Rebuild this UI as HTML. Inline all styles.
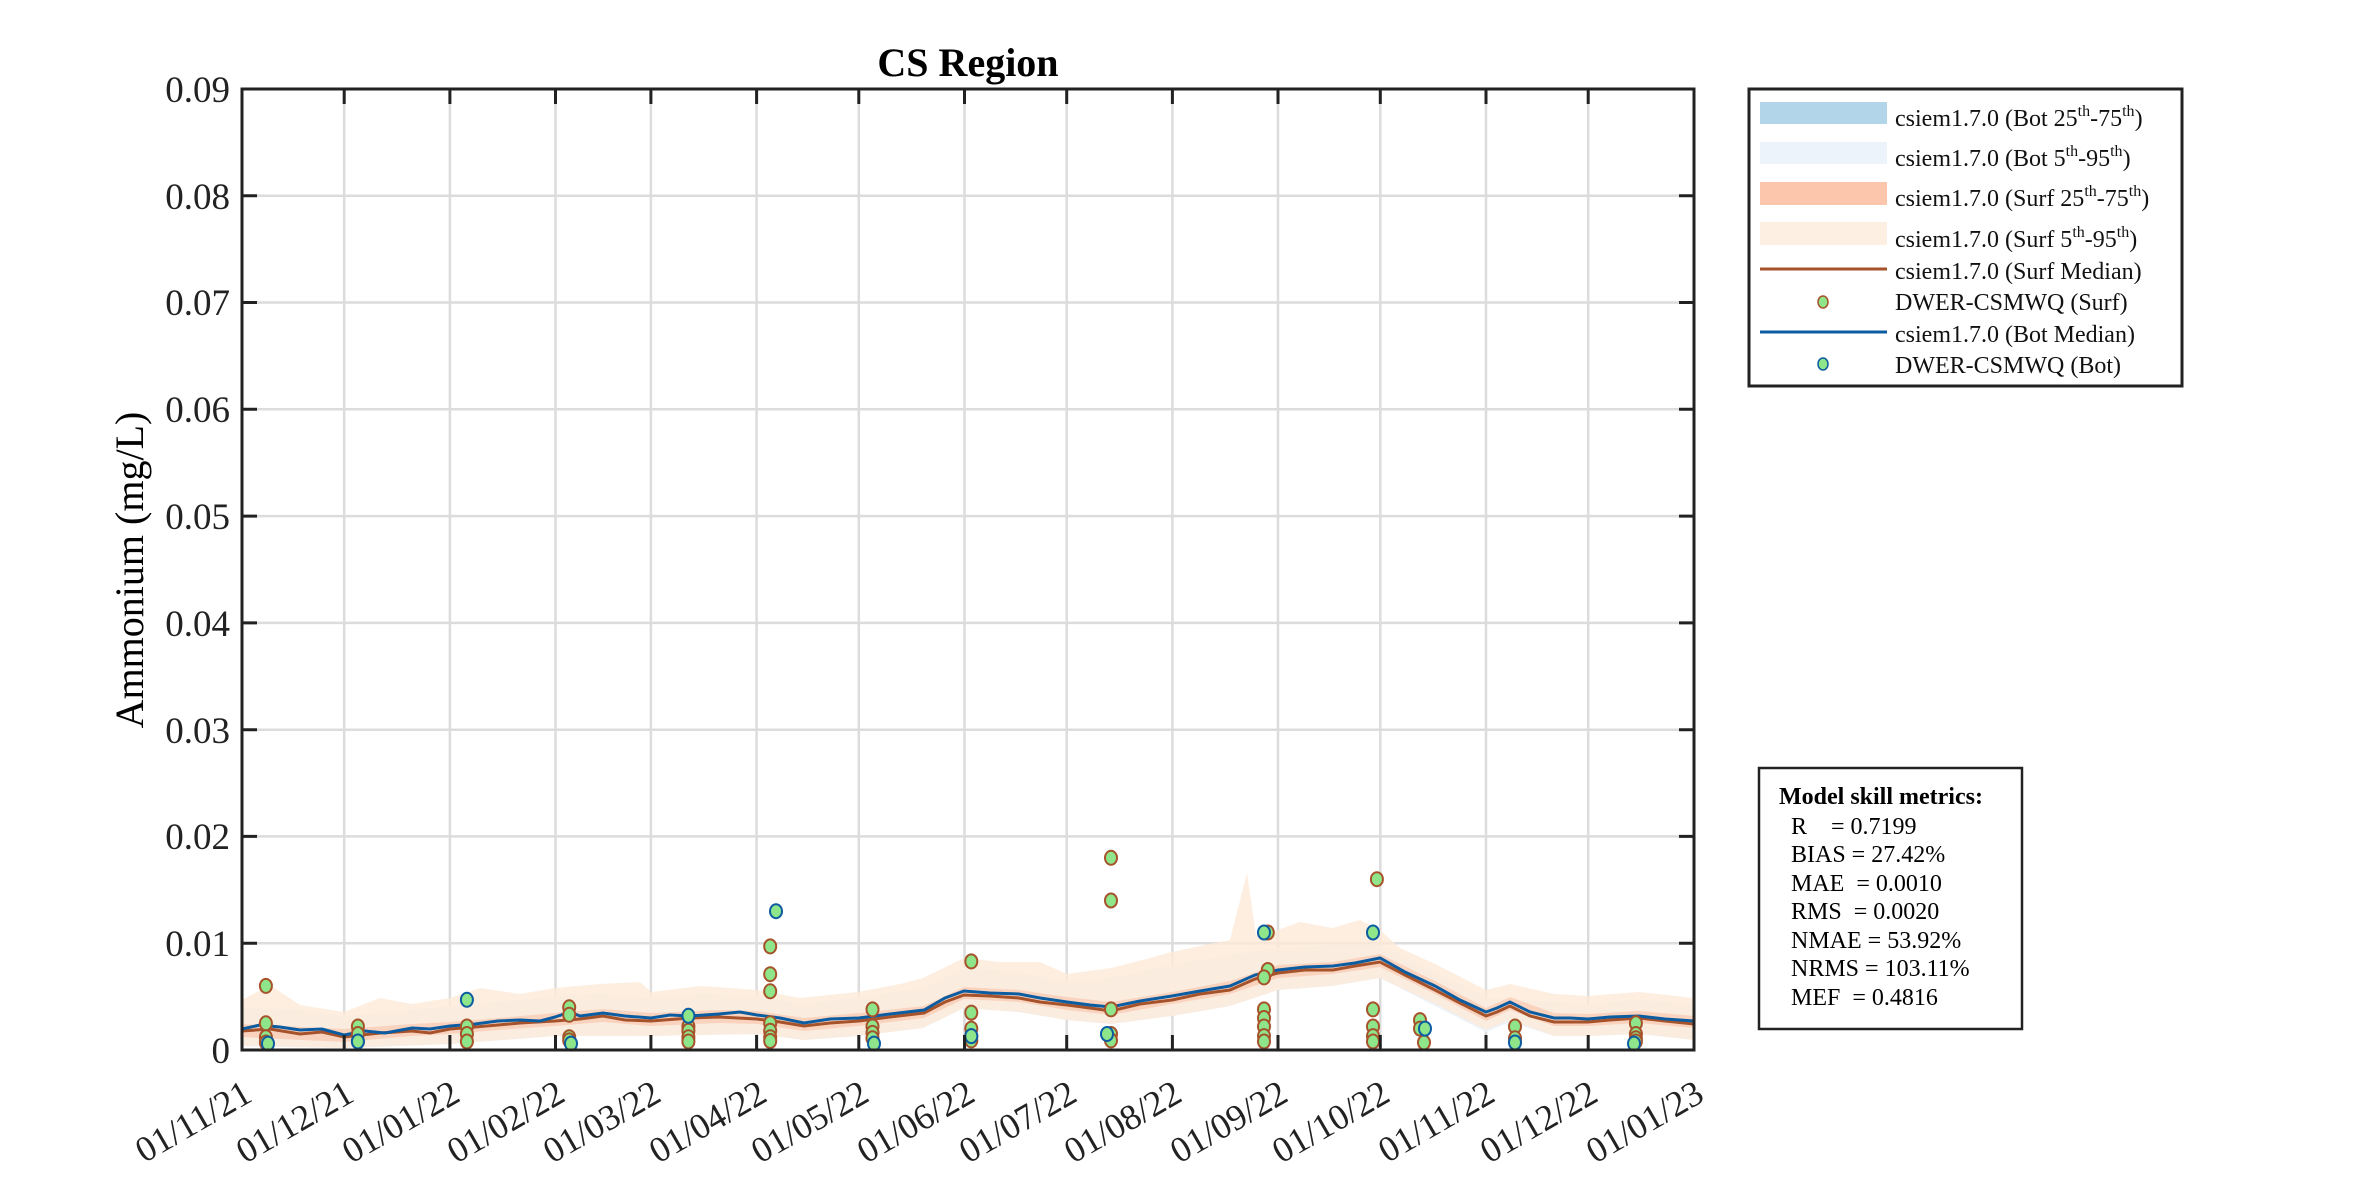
<!DOCTYPE html>
<html><head><meta charset="utf-8"><style>
html,body{margin:0;padding:0;background:#fff;}
svg{display:block;font-family:"Liberation Serif",serif;}
.s{fill:#8ee58a;stroke:#a6522a;stroke-width:2}
.b{fill:#8ee58a;stroke:#0b5ca0;stroke-width:2}
</style></head><body>
<svg width="2362" height="1181" viewBox="0 0 2362 1181" xmlns="http://www.w3.org/2000/svg">
<rect width="2362" height="1181" fill="#fff"/>
<g stroke="#dcdcdc" stroke-width="2.5">
<line x1="344.2" y1="89" x2="344.2" y2="1050"/><line x1="449.9" y1="89" x2="449.9" y2="1050"/><line x1="555.5" y1="89" x2="555.5" y2="1050"/><line x1="650.9" y1="89" x2="650.9" y2="1050"/><line x1="756.6" y1="89" x2="756.6" y2="1050"/><line x1="858.8" y1="89" x2="858.8" y2="1050"/><line x1="964.5" y1="89" x2="964.5" y2="1050"/><line x1="1066.7" y1="89" x2="1066.7" y2="1050"/><line x1="1172.4" y1="89" x2="1172.4" y2="1050"/><line x1="1278" y1="89" x2="1278" y2="1050"/><line x1="1380.3" y1="89" x2="1380.3" y2="1050"/><line x1="1486" y1="89" x2="1486" y2="1050"/><line x1="1588.2" y1="89" x2="1588.2" y2="1050"/>
<line x1="242" y1="943.2" x2="1694" y2="943.2"/><line x1="242" y1="836.4" x2="1694" y2="836.4"/><line x1="242" y1="729.7" x2="1694" y2="729.7"/><line x1="242" y1="622.9" x2="1694" y2="622.9"/><line x1="242" y1="516.1" x2="1694" y2="516.1"/><line x1="242" y1="409.3" x2="1694" y2="409.3"/><line x1="242" y1="302.5" x2="1694" y2="302.5"/><line x1="242" y1="195.8" x2="1694" y2="195.8"/>
</g>
<!-- bands -->
<polygon fill="#edf3fb" points="242,1008 300,1010 344,1016 412,1010 450,1006 520,1000 555,996 600,994 651,998 700,994 757,996 800,1004 858,998 923,988 964,968 1019,972 1067,982 1111,978 1172,965 1230,955 1278,948 1332,945 1380,945 1435,972 1486,998 1554,1002 1588,1004 1639,1000 1694,1004 1694,1040 1639,1034 1588,1036 1554,1036 1510,1022 1486,1032 1435,1006 1380,978 1332,986 1278,990 1230,1006 1172,1016 1111,1024 1067,1020 1019,1012 964,1008 923,1028 858,1036 804,1040 757,1034 651,1036 555,1036 450,1044 344,1048 242,1046"/>
<polygon fill="rgba(252,234,216,0.8)" points="242,1000 270,985 300,1005 344,1012 380,998 412,1004 450,998 480,988 520,994 555,988 600,984 640,982 651,992 700,986 757,990 800,998 858,992 900,984 923,978 964,958 1000,962 1040,962 1067,974 1111,968 1150,958 1172,952 1200,946 1230,940 1247,873 1256,935 1278,930 1300,922 1332,928 1360,920 1380,930 1400,948 1435,964 1486,990 1510,984 1554,994 1588,996 1639,992 1694,998 1694,1040 1639,1034 1588,1036 1554,1036 1510,1020 1486,1030 1435,1004 1380,978 1332,986 1278,990 1230,1006 1172,1016 1111,1024 1067,1020 1019,1012 964,1008 923,1028 858,1036 804,1040 757,1034 651,1036 555,1036 450,1044 344,1048 242,1046"/>
<polygon fill="rgba(250,195,170,0.6)" points="242,1024 344,1029 412,1024 450,1022 498,1018 555,1013 603,1009 651,1013 719,1010 757,1011 804,1018 859,1013 924,1006 964,987 1019,990 1067,997 1111,1002 1172,992 1230,981 1278,965 1333,962 1380,954 1435,981 1486,1008 1510,997 1554,1013 1588,1014 1639,1011 1694,1016 1694,1028 1639,1023 1588,1026 1554,1026 1510,1010 1486,1021 1435,994 1380,967 1333,974 1278,978 1230,994 1172,1004 1111,1015 1067,1010 1019,1002 964,999 924,1018 859,1026 804,1031 757,1024 719,1023 651,1026 603,1022 555,1026 498,1030 450,1034 412,1036 344,1042 242,1037"/>
<!-- medians -->
<polyline fill="none" stroke="#a6522a" stroke-width="3" points="242,1031 270,1029 300,1034 322,1032 344,1037 380,1033 412,1031 430,1033 450,1029 475,1027 498,1025 520,1023 555,1021 580,1019 603,1016 625,1020 651,1021 690,1018 719,1017 757,1019 780,1022 804,1026 830,1023 859,1021 890,1017 924,1013 945,1002 964,995 990,996 1019,998 1040,1002 1067,1005 1090,1008 1111,1011 1140,1004 1172,1000 1200,994 1230,990 1255,979 1278,973 1305,970 1333,970 1355,966 1380,962 1405,975 1435,990 1460,1003 1486,1016 1497,1012 1510,1006 1530,1016 1554,1022 1570,1022 1588,1022 1610,1020 1639,1018 1665,1021 1694,1024"/>
<polyline fill="none" stroke="#0b5ca0" stroke-width="3" points="242,1029 260,1025 280,1027 300,1030 322,1029 344,1035 365,1031 385,1033 412,1028 430,1029 450,1026 475,1024 498,1021 520,1020 540,1021 555,1017 570,1012 580,1016 603,1013 625,1016 651,1018 670,1015 690,1016 719,1014 740,1012 757,1015 780,1018 804,1023 830,1019 859,1018 890,1014 924,1010 945,998 964,991 990,993 1019,994 1040,998 1067,1002 1090,1005 1111,1007 1140,1001 1172,996 1200,991 1230,986 1255,975 1278,970 1305,967 1333,966 1355,963 1380,958 1405,972 1435,986 1460,1000 1486,1012 1497,1008 1510,1002 1530,1012 1554,1018 1570,1018 1588,1019 1610,1017 1639,1016 1665,1019 1694,1021"/>
<!-- surf obs -->
<g>
<ellipse class="s" cx="265.9" cy="985.9" rx="6" ry="7"/><ellipse class="s" cx="265.9" cy="1023.3" rx="6" ry="7"/><ellipse class="s" cx="265.9" cy="1037.2" rx="6" ry="7"/><ellipse class="s" cx="265.9" cy="1042.5" rx="6" ry="7"/>
<ellipse class="s" cx="357.9" cy="1026.5" rx="6" ry="7"/><ellipse class="s" cx="357.9" cy="1034" rx="6" ry="7"/><ellipse class="s" cx="357.9" cy="1041.5" rx="6" ry="7"/>
<ellipse class="s" cx="466.9" cy="1026.5" rx="6" ry="7"/><ellipse class="s" cx="466.9" cy="1034" rx="6" ry="7"/><ellipse class="s" cx="466.9" cy="1041.5" rx="6" ry="7"/>
<ellipse class="s" cx="569.2" cy="1007.3" rx="6" ry="7"/><ellipse class="s" cx="569.2" cy="1014.8" rx="6" ry="7"/><ellipse class="s" cx="569.2" cy="1037.2" rx="6" ry="7"/><ellipse class="s" cx="569.2" cy="1040.4" rx="6" ry="7"/>
<ellipse class="s" cx="688.4" cy="1026.5" rx="6" ry="7"/><ellipse class="s" cx="688.4" cy="1030.8" rx="6" ry="7"/><ellipse class="s" cx="688.4" cy="1037.2" rx="6" ry="7"/><ellipse class="s" cx="688.4" cy="1041.5" rx="6" ry="7"/>
<ellipse class="s" cx="770.2" cy="946.4" rx="6" ry="7"/><ellipse class="s" cx="770.2" cy="974.2" rx="6" ry="7"/><ellipse class="s" cx="770.2" cy="991.3" rx="6" ry="7"/><ellipse class="s" cx="770.2" cy="1023.3" rx="6" ry="7"/><ellipse class="s" cx="770.2" cy="1030.8" rx="6" ry="7"/><ellipse class="s" cx="770.2" cy="1037.2" rx="6" ry="7"/><ellipse class="s" cx="770.2" cy="1041" rx="6" ry="7"/>
<ellipse class="s" cx="872.5" cy="1009.4" rx="6" ry="7"/><ellipse class="s" cx="872.5" cy="1026.5" rx="6" ry="7"/><ellipse class="s" cx="872.5" cy="1032.9" rx="6" ry="7"/><ellipse class="s" cx="872.5" cy="1038.3" rx="6" ry="7"/>
<ellipse class="s" cx="971.3" cy="961.4" rx="6" ry="7"/><ellipse class="s" cx="971.3" cy="1012.6" rx="6" ry="7"/><ellipse class="s" cx="971.3" cy="1028.6" rx="6" ry="7"/><ellipse class="s" cx="971.3" cy="1036.1" rx="6" ry="7"/><ellipse class="s" cx="971.3" cy="1040.4" rx="6" ry="7"/>
<ellipse class="s" cx="1111" cy="857.8" rx="6" ry="7"/><ellipse class="s" cx="1111" cy="900.5" rx="6" ry="7"/><ellipse class="s" cx="1111" cy="1009.4" rx="6" ry="7"/><ellipse class="s" cx="1111" cy="1034" rx="6" ry="7"/><ellipse class="s" cx="1111" cy="1040.4" rx="6" ry="7"/>
<ellipse class="s" cx="1267.8" cy="932.5" rx="6" ry="7"/><ellipse class="s" cx="1267.8" cy="970" rx="6" ry="7"/><ellipse class="s" cx="1264" cy="977.4" rx="6" ry="7"/><ellipse class="s" cx="1264" cy="1009.4" rx="6" ry="7"/><ellipse class="s" cx="1264" cy="1018" rx="6" ry="7"/><ellipse class="s" cx="1264" cy="1026.5" rx="6" ry="7"/><ellipse class="s" cx="1264" cy="1036.1" rx="6" ry="7"/><ellipse class="s" cx="1264" cy="1041.5" rx="6" ry="7"/>
<ellipse class="s" cx="1376.9" cy="879.2" rx="6" ry="7"/><ellipse class="s" cx="1373" cy="1009.4" rx="6" ry="7"/><ellipse class="s" cx="1373" cy="1026.5" rx="6" ry="7"/><ellipse class="s" cx="1373" cy="1036.1" rx="6" ry="7"/><ellipse class="s" cx="1373" cy="1041.5" rx="6" ry="7"/>
<ellipse class="s" cx="1420" cy="1020.1" rx="6" ry="7"/><ellipse class="s" cx="1420" cy="1028.6" rx="6" ry="7"/><ellipse class="s" cx="1424" cy="1042.5" rx="6" ry="7"/>
<ellipse class="s" cx="1515" cy="1026.5" rx="6" ry="7"/><ellipse class="s" cx="1515" cy="1038.3" rx="6" ry="7"/>
<ellipse class="s" cx="1635.9" cy="1023.3" rx="6" ry="7"/><ellipse class="s" cx="1635.9" cy="1034" rx="6" ry="7"/><ellipse class="s" cx="1635.9" cy="1038.3" rx="6" ry="7"/><ellipse class="s" cx="1635.9" cy="1041.5" rx="6" ry="7"/>
</g>
<g>
<ellipse class="b" cx="268" cy="1043.6" rx="6" ry="7"/><ellipse class="b" cx="357.9" cy="1041.5" rx="6" ry="7"/><ellipse class="b" cx="466.9" cy="999.8" rx="6" ry="7"/><ellipse class="b" cx="571" cy="1043.6" rx="6" ry="7"/><ellipse class="b" cx="688.4" cy="1015.8" rx="6" ry="7"/><ellipse class="b" cx="776" cy="911.2" rx="6" ry="7"/><ellipse class="b" cx="874" cy="1043.6" rx="6" ry="7"/><ellipse class="b" cx="971.3" cy="1036.1" rx="6" ry="7"/><ellipse class="b" cx="1107" cy="1034" rx="6" ry="7"/><ellipse class="b" cx="1264" cy="932.5" rx="6" ry="7"/><ellipse class="b" cx="1373" cy="932.5" rx="6" ry="7"/><ellipse class="b" cx="1425" cy="1028.6" rx="6" ry="7"/><ellipse class="b" cx="1515" cy="1042.5" rx="6" ry="7"/><ellipse class="b" cx="1634" cy="1043.6" rx="6" ry="7"/>
</g>
<!-- axes -->
<rect x="242" y="89" width="1452" height="961" fill="none" stroke="#222" stroke-width="3"/>
<g stroke="#222" stroke-width="3">
<path d="M344.2,1050v-15M449.9,1050v-15M555.5,1050v-15M650.9,1050v-15M756.6,1050v-15M858.8,1050v-15M964.5,1050v-15M1066.7,1050v-15M1172.4,1050v-15M1278,1050v-15M1380.3,1050v-15M1486,1050v-15M1588.2,1050v-15"/>
<path d="M344.2,89v15M449.9,89v15M555.5,89v15M650.9,89v15M756.6,89v15M858.8,89v15M964.5,89v15M1066.7,89v15M1172.4,89v15M1278,89v15M1380.3,89v15M1486,89v15M1588.2,89v15"/>
<path d="M242,943.2h15M242,836.4h15M242,729.7h15M242,622.9h15M242,516.1h15M242,409.3h15M242,302.5h15M242,195.8h15"/>
<path d="M1694,943.2h-15M1694,836.4h-15M1694,729.7h-15M1694,622.9h-15M1694,516.1h-15M1694,409.3h-15M1694,302.5h-15M1694,195.8h-15"/>
</g>
<text x="968" y="76" font-size="40" font-weight="bold" text-anchor="middle" fill="#000">CS Region</text>
<g font-size="37" fill="#222" text-anchor="end">
<text x="230" y="1063">0</text><text x="230" y="956">0.01</text><text x="230" y="849">0.02</text><text x="230" y="743">0.03</text><text x="230" y="636">0.04</text><text x="230" y="529">0.05</text><text x="230" y="422">0.06</text><text x="230" y="315">0.07</text><text x="230" y="209">0.08</text><text x="230" y="102">0.09</text>
</g>
<text transform="translate(143,570) rotate(-90)" font-size="40" text-anchor="middle" fill="#000">Ammonium (mg/L)</text>
<g font-size="36" fill="#222" text-anchor="end">
<text transform="translate(254,1100) rotate(-30)">01/11/21</text>
<text transform="translate(356,1100) rotate(-30)">01/12/21</text>
<text transform="translate(462,1100) rotate(-30)">01/01/22</text>
<text transform="translate(567,1100) rotate(-30)">01/02/22</text>
<text transform="translate(663,1100) rotate(-30)">01/03/22</text>
<text transform="translate(769,1100) rotate(-30)">01/04/22</text>
<text transform="translate(871,1100) rotate(-30)">01/05/22</text>
<text transform="translate(977,1100) rotate(-30)">01/06/22</text>
<text transform="translate(1079,1100) rotate(-30)">01/07/22</text>
<text transform="translate(1184,1100) rotate(-30)">01/08/22</text>
<text transform="translate(1290,1100) rotate(-30)">01/09/22</text>
<text transform="translate(1392,1100) rotate(-30)">01/10/22</text>
<text transform="translate(1497,1100) rotate(-30)">01/11/22</text>
<text transform="translate(1600,1100) rotate(-30)">01/12/22</text>
<text transform="translate(1706,1100) rotate(-30)">01/01/23</text>
</g>
<!-- legend -->
<rect x="1749" y="89" width="433" height="297" fill="#fff" stroke="#222" stroke-width="3"/>
<rect x="1760" y="102" width="127" height="22" fill="#b3d5e9"/>
<rect x="1760" y="142" width="127" height="22" fill="#edf3fb"/>
<rect x="1760" y="182" width="127" height="23" fill="#fcc6ad"/>
<rect x="1760" y="222" width="127" height="23" fill="#fdefe2"/>
<line x1="1760" y1="269" x2="1887" y2="269" stroke="#a6522a" stroke-width="3"/>
<ellipse cx="1823" cy="302" rx="5" ry="6" fill="#8ee58a" stroke="#a6522a" stroke-width="1.5"/>
<line x1="1760" y1="332" x2="1887" y2="332" stroke="#0b5ca0" stroke-width="3"/>
<ellipse cx="1823" cy="364" rx="5" ry="6" fill="#8ee58a" stroke="#0b5ca0" stroke-width="1.5"/>
<g font-size="24" fill="#111">
<text x="1895" y="126">csiem1.7.0 (Bot 25<tspan dy="-10" font-size="16">th</tspan><tspan dy="10">-75</tspan><tspan dy="-10" font-size="16">th</tspan><tspan dy="10">)</tspan></text>
<text x="1895" y="166">csiem1.7.0 (Bot 5<tspan dy="-10" font-size="16">th</tspan><tspan dy="10">-95</tspan><tspan dy="-10" font-size="16">th</tspan><tspan dy="10">)</tspan></text>
<text x="1895" y="206">csiem1.7.0 (Surf 25<tspan dy="-10" font-size="16">th</tspan><tspan dy="10">-75</tspan><tspan dy="-10" font-size="16">th</tspan><tspan dy="10">)</tspan></text>
<text x="1895" y="247">csiem1.7.0 (Surf 5<tspan dy="-10" font-size="16">th</tspan><tspan dy="10">-95</tspan><tspan dy="-10" font-size="16">th</tspan><tspan dy="10">)</tspan></text>
<text x="1895" y="279">csiem1.7.0 (Surf Median)</text>
<text x="1895" y="310">DWER-CSMWQ (Surf)</text>
<text x="1895" y="342">csiem1.7.0 (Bot Median)</text>
<text x="1895" y="373">DWER-CSMWQ (Bot)</text>
</g>
<!-- metrics -->
<rect x="1759" y="768" width="263" height="261" fill="#fff" stroke="#222" stroke-width="2.5"/>
<g font-size="24" fill="#000">
<text x="1779" y="804" font-weight="bold">Model skill metrics:</text>
<text x="1791" y="834" xml:space="preserve">R    = 0.7199</text>
<text x="1791" y="862">BIAS = 27.42%</text>
<text x="1791" y="891" xml:space="preserve">MAE  = 0.0010</text>
<text x="1791" y="919" xml:space="preserve">RMS  = 0.0020</text>
<text x="1791" y="948">NMAE = 53.92%</text>
<text x="1791" y="976">NRMS = 103.11%</text>
<text x="1791" y="1005" xml:space="preserve">MEF  = 0.4816</text>
</g>
</svg>
</body></html>
